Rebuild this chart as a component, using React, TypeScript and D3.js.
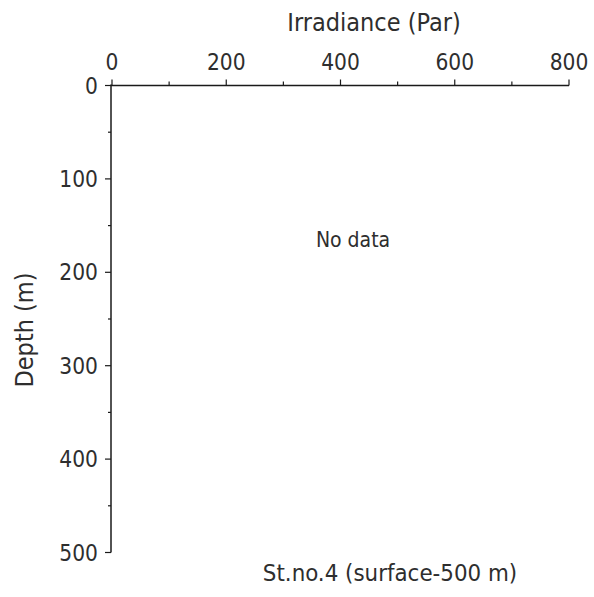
import React from "react";
import * as d3 from "d3";

const W = 594;
const H = 597;

const xDomain: [number, number] = [0, 800];
const yDomain: [number, number] = [0, 500];
const xMajorTicks = [0, 200, 400, 600, 800];
const xMinorTicks = [100, 300, 500, 700];
const yMajorTicks = [0, 100, 200, 300, 400, 500];
const yMinorTicks = [50, 150, 250, 350, 450];

const xTitle = "Irradiance (Par)";
const yTitle = "Depth (m)";
const noDataText = "No data";
const stationLabel = "St.no.4 (surface-500 m)";

const FONT = "'DejaVu Sans Condensed', 'DejaVu Sans', Verdana, sans-serif";
const TEXT = "#2e2e2e";
const LINE = "#1a1a1a";

export default function App() {
  const x = d3.scaleLinear().domain(xDomain).range([112, 569]);
  const y = d3.scaleLinear().domain(yDomain).range([85.5, 552.5]);
  const x0 = x(0);
  const y0 = y(0);

  return (
    <svg
      width={W}
      height={H}
      style={{ position: "absolute", left: 0, top: 0, background: "#fff", fontStretch: "condensed" }}
      fontFamily={FONT}
    >
      <rect width={W} height={H} fill="#fff" />
      {/* top x axis */}
      <line x1={x0 - 1} x2={x(800)} y1={y0} y2={y0} stroke={LINE} strokeWidth={1.5} />
      {xMajorTicks.map((t) => (
        <g key={"xm" + t}>
          <line x1={x(t)} x2={x(t)} y1={y0} y2={y0 - 6} stroke={LINE} strokeWidth={1.2} />
          <text x={x(t)} y={70} textAnchor="middle" fontSize={22.5} fill={TEXT}>
            {t}
          </text>
        </g>
      ))}
      {xMinorTicks.map((t) => (
        <line key={"xn" + t} x1={x(t)} x2={x(t)} y1={y0} y2={y0 - 4} stroke={LINE} strokeWidth={1.2} />
      ))}
      <text x={374} y={31} textAnchor="middle" fontSize={25} fill={TEXT}>
        {xTitle}
      </text>

      {/* left y axis */}
      <line x1={x0 - 1} x2={x0 - 1} y1={y0 - 1} y2={y(500)} stroke={LINE} strokeWidth={1.5} />
      {yMajorTicks.map((t) => (
        <g key={"ym" + t}>
          <line x1={x0 - 1} x2={x0 - 7} y1={y(t)} y2={y(t)} stroke={LINE} strokeWidth={1.2} />
          <text x={98} y={y(t)} dy="0.36em" textAnchor="end" fontSize={22.5} fill={TEXT}>
            {t}
          </text>
        </g>
      ))}
      {yMinorTicks.map((t) => (
        <line key={"yn" + t} x1={x0 - 1} x2={x0 - 4} y1={y(t)} y2={y(t)} stroke={LINE} strokeWidth={1.2} />
      ))}
      <text
        transform={`translate(33,330) rotate(-90)`}
        textAnchor="middle"
        fontSize={25}
        fill={TEXT}
      >
        {yTitle}
      </text>

      <text x={353} y={247} textAnchor="middle" fontSize={21} fill={TEXT}>
        {noDataText}
      </text>
      <text x={390} y={581} textAnchor="middle" fontSize={23.8} fill={TEXT}>
        {stationLabel}
      </text>
    </svg>
  );
}
